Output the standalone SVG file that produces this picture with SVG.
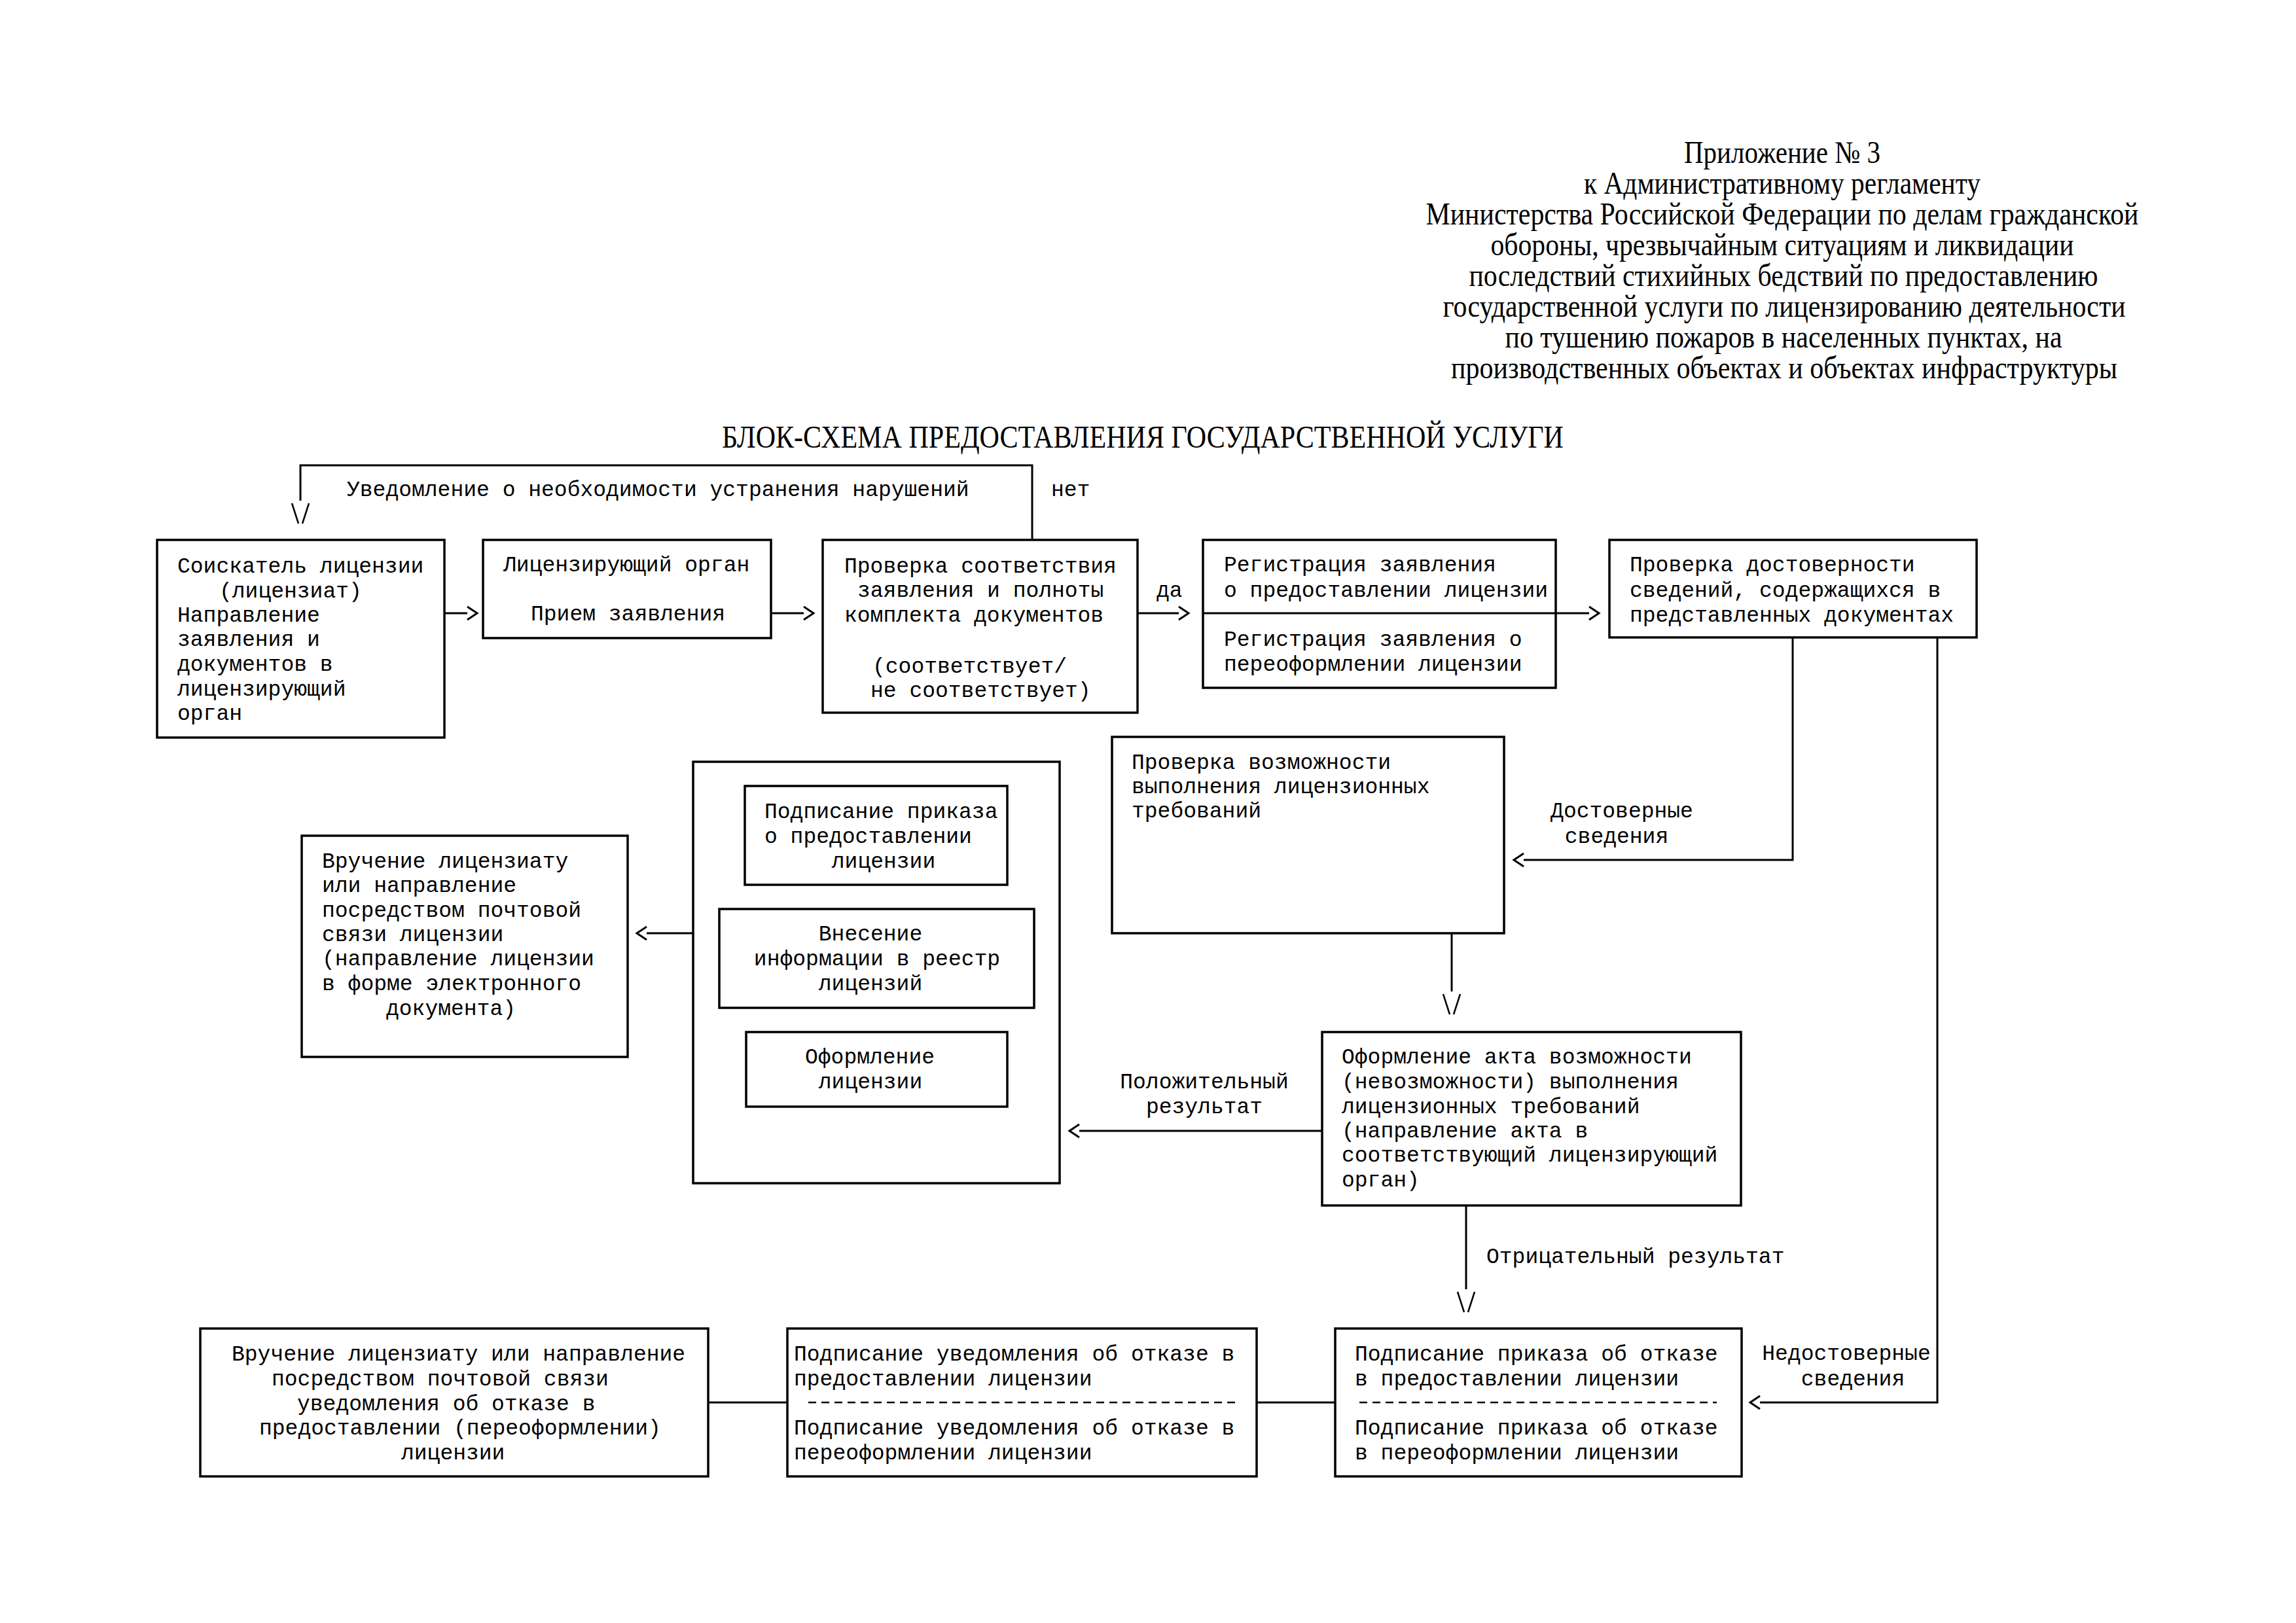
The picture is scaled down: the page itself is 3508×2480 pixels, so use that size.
<svg xmlns="http://www.w3.org/2000/svg" width="3508" height="2480" viewBox="0 0 3508 2480">
<defs>
<style>
.s{font-family:"Liberation Serif","Times New Roman",serif;font-size:48px;fill:#000}
.m{font-family:"Liberation Mono","Courier New",monospace;font-size:33px;fill:#000}
.c{text-anchor:middle}
.b{fill:#fff;stroke:#000;stroke-width:3.5}
.ln{fill:none;stroke:#000;stroke-width:3}
.dl{fill:none;stroke:#000;stroke-width:2.5;stroke-dasharray:12 8}
.ar{fill:none;stroke:#000;stroke-width:3;marker-end:url(#chev)}
.av{fill:none;stroke:#000;stroke-width:3;marker-end:url(#vee)}
</style>
<marker id="chev" markerUnits="userSpaceOnUse" markerWidth="20" markerHeight="24" refX="0" refY="0" orient="auto" overflow="visible">
<path d="M0,-10 L15,0 L0,10" fill="none" stroke="#000" stroke-width="3"/>
</marker>
<marker id="vee" markerUnits="userSpaceOnUse" markerWidth="40" markerHeight="30" refX="0" refY="0" orient="auto" overflow="visible">
<path d="M4,-13 L35,-3 M4,13 L35,3" fill="none" stroke="#000" stroke-width="2.5"/>
</marker>
</defs>
<rect x="0" y="0" width="3508" height="2480" fill="#fff"/>

<g id="header">
<text class="s c" x="2723" y="249" textLength="300" lengthAdjust="spacingAndGlyphs">Приложение № 3</text>
<text class="s c" x="2723" y="296" textLength="606" lengthAdjust="spacingAndGlyphs">к Административному регламенту</text>
<text class="s c" x="2723" y="343" textLength="1089" lengthAdjust="spacingAndGlyphs">Министерства Российской Федерации по делам гражданской</text>
<text class="s c" x="2723" y="390" textLength="891" lengthAdjust="spacingAndGlyphs">обороны, чрезвычайным ситуациям и ликвидации</text>
<text class="s c" x="2725" y="437" textLength="961" lengthAdjust="spacingAndGlyphs">последствий стихийных бедствий по предоставлению</text>
<text class="s c" x="2726" y="484" textLength="1043" lengthAdjust="spacingAndGlyphs">государственной услуги по лицензированию деятельности</text>
<text class="s c" x="2725" y="531" textLength="851" lengthAdjust="spacingAndGlyphs">по тушению пожаров в населенных пунктах, на</text>
<text class="s c" x="2726" y="578" textLength="1018" lengthAdjust="spacingAndGlyphs">производственных объектах и объектах инфраструктуры</text>
</g>

<g id="title">
<text class="s c" x="1746" y="684" textLength="1286" lengthAdjust="spacingAndGlyphs">БЛОК-СХЕМА ПРЕДОСТАВЛЕНИЯ ГОСУДАРСТВЕННОЙ УСЛУГИ</text>
</g>

<g id="connectors">
<path class="av" d="M1577,826 V711 H459 V765"/>
<text class="m" x="530" y="758">Уведомление о необходимости устранения нарушений</text>
<text class="m" x="1606" y="758">нет</text>
<path class="ar" d="M680,937 H714"/>
<path class="ar" d="M1178,937 H1228"/>
<path class="ar" d="M1738,937 H1801"/>
<text class="m" x="1767" y="912">да</text>
<path class="ar" d="M2377,937 H2428"/>
<path class="ar" d="M2739,974 V1314 H2328"/>
<text class="m c" x="2478" y="1249">Достоверные</text>
<text class="m c" x="2470" y="1288">сведения</text>
<path class="ar" d="M2960,974 V2143 H2689"/>
<text class="m c" x="2821" y="2078">Недостоверные</text>
<text class="m c" x="2831" y="2117">сведения</text>
<path class="av" d="M2218,1427 V1515"/>
<path class="ar" d="M2020,1728 H1649"/>
<text class="m c" x="1840" y="1663">Положительный</text>
<text class="m c" x="1840" y="1701">результат</text>
<path class="ar" d="M1059,1426 H988"/>
<path class="av" d="M2240,1842 V1970"/>
<text class="m" x="2271" y="1930">Отрицательный результат</text>
<path class="ln" d="M1082,2143 H1203"/>
<path class="ln" d="M1920,2143 H2040"/>
</g>

<g id="n-applicant">
<rect class="b" x="240" y="825" width="439" height="302"/>
<text class="m" x="271" y="875">Соискатель лицензии</text>
<text class="m" x="335" y="913">(лицензиат)</text>
<text class="m" x="271" y="950">Направление</text>
<text class="m" x="271" y="987">заявления и</text>
<text class="m" x="271" y="1025">документов в</text>
<text class="m" x="271" y="1063">лицензирующий</text>
<text class="m" x="271" y="1100">орган</text>
</g>

<g id="n-organ">
<rect class="b" x="738" y="825" width="440" height="150"/>
<text class="m" x="769" y="873">Лицензирующий орган</text>
<text class="m" x="811" y="948">Прием заявления</text>
</g>

<g id="n-check">
<rect class="b" x="1257" y="825" width="481" height="264"/>
<text class="m" x="1290" y="875">Проверка соответствия</text>
<text class="m" x="1310" y="912">заявления и полноты</text>
<text class="m" x="1290" y="950">комплекта документов</text>
<text class="m" x="1333" y="1028">(соответствует/</text>
<text class="m" x="1330" y="1065">не соответствует)</text>
</g>

<g id="n-register">
<rect class="b" x="1838" y="825" width="539" height="226"/>
<path class="ln" d="M1838,937 H2377"/>
<text class="m" x="1870" y="873">Регистрация заявления</text>
<text class="m" x="1870" y="912">о предоставлении лицензии</text>
<text class="m" x="1870" y="987">Регистрация заявления о</text>
<text class="m" x="1870" y="1025">переоформлении лицензии</text>
</g>

<g id="n-verify">
<rect class="b" x="2459" y="825" width="561" height="149"/>
<text class="m" x="2490" y="873">Проверка достоверности</text>
<text class="m" x="2490" y="912">сведений, содержащихся в</text>
<text class="m" x="2490" y="950">представленных документах</text>
</g>

<g id="n-capability">
<rect class="b" x="1699" y="1126" width="599" height="300"/>
<text class="m" x="1729" y="1175">Проверка возможности</text>
<text class="m" x="1729" y="1212">выполнения лицензионных</text>
<text class="m" x="1729" y="1249">требований</text>
</g>

<g id="n-act">
<rect class="b" x="2020" y="1577" width="640" height="265"/>
<text class="m" x="2050" y="1625">Оформление акта возможности</text>
<text class="m" x="2050" y="1663">(невозможности) выполнения</text>
<text class="m" x="2050" y="1701">лицензионных требований</text>
<text class="m" x="2050" y="1738">(направление акта в</text>
<text class="m" x="2050" y="1775">соответствующий лицензирующий</text>
<text class="m" x="2050" y="1813">орган)</text>
</g>

<g id="n-grant">
<rect class="b" x="1059" y="1164" width="560" height="644"/>
<g id="n-grant-order">
<rect class="b" x="1138" y="1201" width="401" height="151"/>
<text class="m" x="1168" y="1250">Подписание приказа</text>
<text class="m" x="1168" y="1288">о предоставлении</text>
<text class="m c" x="1350" y="1326">лицензии</text>
</g>
<g id="n-grant-registry">
<rect class="b" x="1099" y="1389" width="481" height="151"/>
<text class="m c" x="1330" y="1437">Внесение</text>
<text class="m c" x="1340" y="1475">информации в реестр</text>
<text class="m c" x="1330" y="1513">лицензий</text>
</g>
<g id="n-grant-license">
<rect class="b" x="1140" y="1577" width="399" height="114"/>
<text class="m c" x="1329" y="1625">Оформление</text>
<text class="m c" x="1330" y="1663">лицензии</text>
</g>
</g>

<g id="n-deliver">
<rect class="b" x="461" y="1277" width="498" height="338"/>
<text class="m" x="492" y="1326">Вручение лицензиату</text>
<text class="m" x="492" y="1363">или направление</text>
<text class="m" x="492" y="1401">посредством почтовой</text>
<text class="m" x="492" y="1438">связи лицензии</text>
<text class="m" x="492" y="1475">(направление лицензии</text>
<text class="m" x="492" y="1513">в форме электронного</text>
<text class="m" x="590" y="1551">документа)</text>
</g>

<g id="n-refuse-order">
<rect class="b" x="2040" y="2030" width="621" height="226"/>
<text class="m" x="2070" y="2079">Подписание приказа об отказе</text>
<text class="m" x="2070" y="2117">в предоставлении лицензии</text>
<path class="dl" d="M2077,2143 H2623"/>
<text class="m" x="2070" y="2192">Подписание приказа об отказе</text>
<text class="m" x="2070" y="2230">в переоформлении лицензии</text>
</g>

<g id="n-refuse-notice">
<rect class="b" x="1203" y="2030" width="717" height="226"/>
<text class="m" x="1213" y="2079">Подписание уведомления об отказе в</text>
<text class="m" x="1213" y="2117">предоставлении лицензии</text>
<path class="dl" d="M1235,2143 H1889"/>
<text class="m" x="1213" y="2192">Подписание уведомления об отказе в</text>
<text class="m" x="1213" y="2230">переоформлении лицензии</text>
</g>

<g id="n-refuse-deliver">
<rect class="b" x="306" y="2030" width="776" height="226"/>
<text class="m" x="354" y="2079">Вручение лицензиату или направление</text>
<text class="m" x="415" y="2117">посредством почтовой связи</text>
<text class="m" x="454" y="2155">уведомления об отказе в</text>
<text class="m" x="396" y="2192">предоставлении (переоформлении)</text>
<text class="m" x="613" y="2230">лицензии</text>
</g>
</svg>
